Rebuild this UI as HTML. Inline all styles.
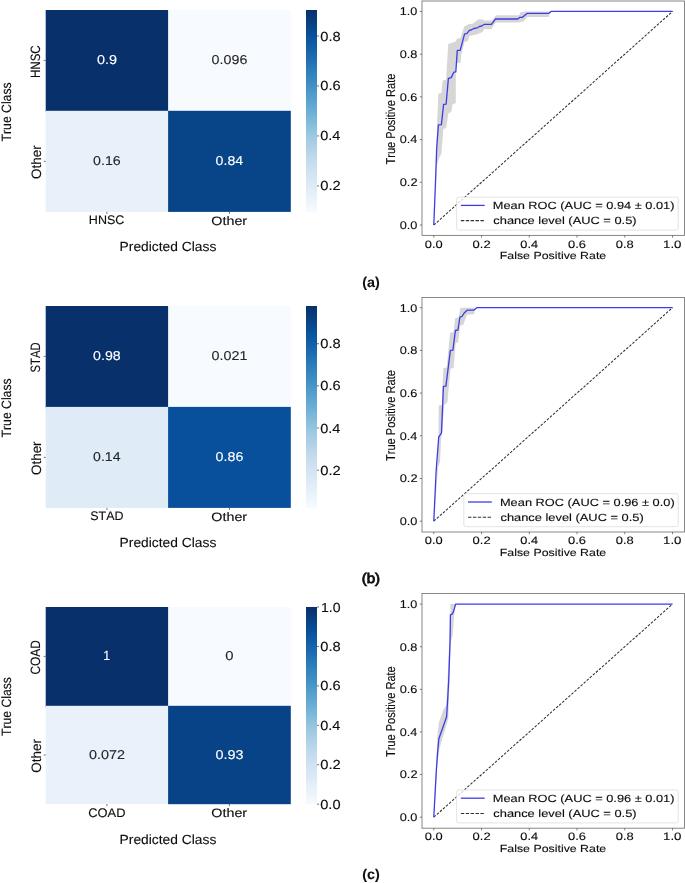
<!DOCTYPE html><html><head><meta charset="utf-8"><style>html,body{margin:0;padding:0;background:#fff;width:685px;height:883px;overflow:hidden}text{font-family:"Liberation Sans",sans-serif;font-kerning:none;text-rendering:geometricPrecision;stroke-width:0.12px}</style></head><body>
<svg width="685" height="883" viewBox="0 0 685 883" style="display:block;will-change:transform;font-family:'Liberation Sans',sans-serif;font-kerning:none"><defs><linearGradient id="ga" x1="0" y1="0" x2="0" y2="1"><stop offset="0.0000" stop-color="#08306b"/><stop offset="0.0312" stop-color="#083776"/><stop offset="0.0625" stop-color="#084082"/><stop offset="0.0938" stop-color="#08488e"/><stop offset="0.1250" stop-color="#08509b"/><stop offset="0.1562" stop-color="#0e58a2"/><stop offset="0.1875" stop-color="#1460a8"/><stop offset="0.2188" stop-color="#1a68ae"/><stop offset="0.2500" stop-color="#2070b4"/><stop offset="0.2812" stop-color="#2979b9"/><stop offset="0.3125" stop-color="#3181bd"/><stop offset="0.3438" stop-color="#3989c1"/><stop offset="0.3750" stop-color="#4191c6"/><stop offset="0.4062" stop-color="#4b98ca"/><stop offset="0.4375" stop-color="#56a0ce"/><stop offset="0.4688" stop-color="#60a7d2"/><stop offset="0.5000" stop-color="#6aaed6"/><stop offset="0.5312" stop-color="#77b5d9"/><stop offset="0.5625" stop-color="#84bcdb"/><stop offset="0.5938" stop-color="#91c3de"/><stop offset="0.6250" stop-color="#9dcae1"/><stop offset="0.6562" stop-color="#a8cee4"/><stop offset="0.6875" stop-color="#b2d2e8"/><stop offset="0.7188" stop-color="#bcd7eb"/><stop offset="0.7500" stop-color="#c6dbef"/><stop offset="0.7812" stop-color="#ccdff1"/><stop offset="0.8125" stop-color="#d2e3f3"/><stop offset="0.8438" stop-color="#d8e7f5"/><stop offset="0.8750" stop-color="#deebf7"/><stop offset="0.9062" stop-color="#e4eff9"/><stop offset="0.9375" stop-color="#eaf3fb"/><stop offset="0.9688" stop-color="#f1f7fd"/><stop offset="1.0000" stop-color="#f7fbff"/></linearGradient><linearGradient id="gb" x1="0" y1="0" x2="0" y2="1"><stop offset="0.0000" stop-color="#08306b"/><stop offset="0.0312" stop-color="#083776"/><stop offset="0.0625" stop-color="#084082"/><stop offset="0.0938" stop-color="#08488e"/><stop offset="0.1250" stop-color="#08509b"/><stop offset="0.1562" stop-color="#0e58a2"/><stop offset="0.1875" stop-color="#1460a8"/><stop offset="0.2188" stop-color="#1a68ae"/><stop offset="0.2500" stop-color="#2070b4"/><stop offset="0.2812" stop-color="#2979b9"/><stop offset="0.3125" stop-color="#3181bd"/><stop offset="0.3438" stop-color="#3989c1"/><stop offset="0.3750" stop-color="#4191c6"/><stop offset="0.4062" stop-color="#4b98ca"/><stop offset="0.4375" stop-color="#56a0ce"/><stop offset="0.4688" stop-color="#60a7d2"/><stop offset="0.5000" stop-color="#6aaed6"/><stop offset="0.5312" stop-color="#77b5d9"/><stop offset="0.5625" stop-color="#84bcdb"/><stop offset="0.5938" stop-color="#91c3de"/><stop offset="0.6250" stop-color="#9dcae1"/><stop offset="0.6562" stop-color="#a8cee4"/><stop offset="0.6875" stop-color="#b2d2e8"/><stop offset="0.7188" stop-color="#bcd7eb"/><stop offset="0.7500" stop-color="#c6dbef"/><stop offset="0.7812" stop-color="#ccdff1"/><stop offset="0.8125" stop-color="#d2e3f3"/><stop offset="0.8438" stop-color="#d8e7f5"/><stop offset="0.8750" stop-color="#deebf7"/><stop offset="0.9062" stop-color="#e4eff9"/><stop offset="0.9375" stop-color="#eaf3fb"/><stop offset="0.9688" stop-color="#f1f7fd"/><stop offset="1.0000" stop-color="#f7fbff"/></linearGradient><linearGradient id="gc" x1="0" y1="0" x2="0" y2="1"><stop offset="0.0000" stop-color="#08306b"/><stop offset="0.0312" stop-color="#083776"/><stop offset="0.0625" stop-color="#084082"/><stop offset="0.0938" stop-color="#08488e"/><stop offset="0.1250" stop-color="#08509b"/><stop offset="0.1562" stop-color="#0e58a2"/><stop offset="0.1875" stop-color="#1460a8"/><stop offset="0.2188" stop-color="#1a68ae"/><stop offset="0.2500" stop-color="#2070b4"/><stop offset="0.2812" stop-color="#2979b9"/><stop offset="0.3125" stop-color="#3181bd"/><stop offset="0.3438" stop-color="#3989c1"/><stop offset="0.3750" stop-color="#4191c6"/><stop offset="0.4062" stop-color="#4b98ca"/><stop offset="0.4375" stop-color="#56a0ce"/><stop offset="0.4688" stop-color="#60a7d2"/><stop offset="0.5000" stop-color="#6aaed6"/><stop offset="0.5312" stop-color="#77b5d9"/><stop offset="0.5625" stop-color="#84bcdb"/><stop offset="0.5938" stop-color="#91c3de"/><stop offset="0.6250" stop-color="#9dcae1"/><stop offset="0.6562" stop-color="#a8cee4"/><stop offset="0.6875" stop-color="#b2d2e8"/><stop offset="0.7188" stop-color="#bcd7eb"/><stop offset="0.7500" stop-color="#c6dbef"/><stop offset="0.7812" stop-color="#ccdff1"/><stop offset="0.8125" stop-color="#d2e3f3"/><stop offset="0.8438" stop-color="#d8e7f5"/><stop offset="0.8750" stop-color="#deebf7"/><stop offset="0.9062" stop-color="#e4eff9"/><stop offset="0.9375" stop-color="#eaf3fb"/><stop offset="0.9688" stop-color="#f1f7fd"/><stop offset="1.0000" stop-color="#f7fbff"/></linearGradient></defs><rect width="685" height="883" fill="#fff"/><rect x="45.70" y="10.00" width="123.90" height="102.30" fill="#08306b"/>
<rect x="168.10" y="10.00" width="122.70" height="102.30" fill="#f7fbff"/>
<rect x="45.70" y="110.80" width="123.90" height="101.10" fill="#e8f1fa"/>
<rect x="168.10" y="110.80" width="122.70" height="101.10" fill="#084488"/>
<text transform="translate(96.94,64.32) scale(1.1219,1)" font-size="12.853" fill="#ffffff" stroke="#ffffff">0.9</text>
<text transform="translate(211.59,64.32) scale(1.1127,1)" font-size="12.853" fill="#262626" stroke="#262626">0.096</text>
<text transform="translate(93.09,165.27) scale(1.1065,1)" font-size="12.853" fill="#262626" stroke="#262626">0.16</text>
<text transform="translate(215.60,165.27) scale(1.1020,1)" font-size="12.853" fill="#ffffff" stroke="#ffffff">0.84</text>
<rect x="306.0" y="10.00" width="11.0" height="201.90" fill="url(#ga)"/>
<line x1="317.00" y1="185.91" x2="319.00" y2="185.91" stroke="#444" stroke-width="0.75" />
<text transform="translate(320.22,190.43) scale(1.1237,1)" font-size="13.135" fill="#0d0d0d" stroke="#0d0d0d">0.2</text>
<line x1="317.00" y1="135.94" x2="319.00" y2="135.94" stroke="#444" stroke-width="0.75" />
<text transform="translate(320.23,140.46) scale(1.1059,1)" font-size="13.135" fill="#0d0d0d" stroke="#0d0d0d">0.4</text>
<line x1="317.00" y1="85.96" x2="319.00" y2="85.96" stroke="#444" stroke-width="0.75" />
<text transform="translate(320.23,90.48) scale(1.1182,1)" font-size="13.135" fill="#0d0d0d" stroke="#0d0d0d">0.6</text>
<line x1="317.00" y1="35.99" x2="319.00" y2="35.99" stroke="#444" stroke-width="0.75" />
<text transform="translate(320.23,40.51) scale(1.1178,1)" font-size="13.135" fill="#0d0d0d" stroke="#0d0d0d">0.8</text>
<line x1="43.70" y1="60.40" x2="45.70" y2="60.40" stroke="#444" stroke-width="0.75" />
<line x1="43.70" y1="161.35" x2="45.70" y2="161.35" stroke="#444" stroke-width="0.75" />
<line x1="106.90" y1="211.90" x2="106.90" y2="213.90" stroke="#444" stroke-width="0.75" />
<line x1="229.45" y1="211.90" x2="229.45" y2="213.90" stroke="#444" stroke-width="0.75" />
<text transform="translate(88.87,224.48) scale(1.0081,1)" font-size="12.429" fill="#0d0d0d" stroke="#0d0d0d">HNSC</text>
<text transform="translate(211.32,224.58) scale(1.1685,1)" font-size="12.255" fill="#0d0d0d" stroke="#0d0d0d">Other</text>
<text transform="translate(119.62,251.30) scale(1.0443,1)" font-size="13.227" fill="#0d0d0d" stroke="#0d0d0d">Predicted Class</text>
<text transform="translate(40.47,78.00) rotate(-90) scale(0.8507,1)" font-size="13.559" fill="#0d0d0d" stroke="#0d0d0d">HNSC</text>
<text transform="translate(40.67,178.99) rotate(-90) scale(0.9884,1)" font-size="13.617" fill="#0d0d0d" stroke="#0d0d0d">Other</text>
<text transform="translate(10.50,141.42) rotate(-90) scale(0.9046,1)" font-size="13.518" fill="#0d0d0d" stroke="#0d0d0d">True Class</text>
<rect x="45.70" y="306.00" width="123.90" height="102.40" fill="#08306b"/>
<rect x="168.10" y="306.00" width="122.70" height="102.40" fill="#f7fbff"/>
<rect x="45.70" y="406.90" width="123.90" height="101.00" fill="#dfebf7"/>
<rect x="168.10" y="406.90" width="122.70" height="101.00" fill="#08509b"/>
<text transform="translate(93.09,360.37) scale(1.1062,1)" font-size="12.853" fill="#ffffff" stroke="#ffffff">0.98</text>
<text transform="translate(211.59,360.37) scale(1.1149,1)" font-size="12.853" fill="#262626" stroke="#262626">0.021</text>
<text transform="translate(93.10,461.32) scale(1.0979,1)" font-size="12.853" fill="#262626" stroke="#262626">0.14</text>
<text transform="translate(215.59,461.32) scale(1.1107,1)" font-size="12.853" fill="#ffffff" stroke="#ffffff">0.86</text>
<rect x="306.0" y="306.00" width="11.0" height="201.90" fill="url(#gb)"/>
<line x1="317.00" y1="470.18" x2="319.00" y2="470.18" stroke="#444" stroke-width="0.75" />
<text transform="translate(320.22,474.70) scale(1.1237,1)" font-size="13.135" fill="#0d0d0d" stroke="#0d0d0d">0.2</text>
<line x1="317.00" y1="428.03" x2="319.00" y2="428.03" stroke="#444" stroke-width="0.75" />
<text transform="translate(320.23,432.55) scale(1.1059,1)" font-size="13.135" fill="#0d0d0d" stroke="#0d0d0d">0.4</text>
<line x1="317.00" y1="385.87" x2="319.00" y2="385.87" stroke="#444" stroke-width="0.75" />
<text transform="translate(320.23,390.40) scale(1.1182,1)" font-size="13.135" fill="#0d0d0d" stroke="#0d0d0d">0.6</text>
<line x1="317.00" y1="343.72" x2="319.00" y2="343.72" stroke="#444" stroke-width="0.75" />
<text transform="translate(320.23,348.25) scale(1.1178,1)" font-size="13.135" fill="#0d0d0d" stroke="#0d0d0d">0.8</text>
<line x1="43.70" y1="356.45" x2="45.70" y2="356.45" stroke="#444" stroke-width="0.75" />
<line x1="43.70" y1="457.40" x2="45.70" y2="457.40" stroke="#444" stroke-width="0.75" />
<line x1="106.90" y1="507.90" x2="106.90" y2="509.90" stroke="#444" stroke-width="0.75" />
<line x1="229.45" y1="507.90" x2="229.45" y2="509.90" stroke="#444" stroke-width="0.75" />
<text transform="translate(90.28,520.48) scale(1.0035,1)" font-size="12.429" fill="#0d0d0d" stroke="#0d0d0d">STAD</text>
<text transform="translate(211.32,520.58) scale(1.1685,1)" font-size="12.255" fill="#0d0d0d" stroke="#0d0d0d">Other</text>
<text transform="translate(119.62,547.30) scale(1.0443,1)" font-size="13.227" fill="#0d0d0d" stroke="#0d0d0d">Predicted Class</text>
<text transform="translate(40.47,372.41) rotate(-90) scale(0.8281,1)" font-size="13.559" fill="#0d0d0d" stroke="#0d0d0d">STAD</text>
<text transform="translate(40.67,475.04) rotate(-90) scale(0.9884,1)" font-size="13.617" fill="#0d0d0d" stroke="#0d0d0d">Other</text>
<text transform="translate(10.50,437.42) rotate(-90) scale(0.9046,1)" font-size="13.518" fill="#0d0d0d" stroke="#0d0d0d">True Class</text>
<rect x="45.70" y="607.00" width="123.90" height="100.30" fill="#08306b"/>
<rect x="168.10" y="607.00" width="122.70" height="100.30" fill="#f7fbff"/>
<rect x="45.70" y="705.80" width="123.90" height="98.40" fill="#e9f2fa"/>
<rect x="168.10" y="705.80" width="122.70" height="98.40" fill="#084387"/>
<text transform="translate(103.31,660.45) scale(0.9294,1)" font-size="13.227" fill="#ffffff" stroke="#ffffff">1</text>
<text transform="translate(225.32,660.32) scale(1.1556,1)" font-size="12.853" fill="#262626" stroke="#262626">0</text>
<text transform="translate(88.99,758.92) scale(1.1188,1)" font-size="12.853" fill="#262626" stroke="#262626">0.072</text>
<text transform="translate(215.49,758.92) scale(1.1191,1)" font-size="12.853" fill="#ffffff" stroke="#ffffff">0.93</text>
<rect x="306.0" y="607.00" width="11.0" height="197.20" fill="url(#gc)"/>
<line x1="317.00" y1="804.20" x2="319.00" y2="804.20" stroke="#444" stroke-width="0.75" />
<text transform="translate(320.23,808.72) scale(1.1141,1)" font-size="13.135" fill="#0d0d0d" stroke="#0d0d0d">0.0</text>
<line x1="317.00" y1="764.76" x2="319.00" y2="764.76" stroke="#444" stroke-width="0.75" />
<text transform="translate(320.22,769.28) scale(1.1237,1)" font-size="13.135" fill="#0d0d0d" stroke="#0d0d0d">0.2</text>
<line x1="317.00" y1="725.32" x2="319.00" y2="725.32" stroke="#444" stroke-width="0.75" />
<text transform="translate(320.23,729.84) scale(1.1059,1)" font-size="13.135" fill="#0d0d0d" stroke="#0d0d0d">0.4</text>
<line x1="317.00" y1="685.88" x2="319.00" y2="685.88" stroke="#444" stroke-width="0.75" />
<text transform="translate(320.23,690.40) scale(1.1182,1)" font-size="13.135" fill="#0d0d0d" stroke="#0d0d0d">0.6</text>
<line x1="317.00" y1="646.44" x2="319.00" y2="646.44" stroke="#444" stroke-width="0.75" />
<text transform="translate(320.23,650.96) scale(1.1178,1)" font-size="13.135" fill="#0d0d0d" stroke="#0d0d0d">0.8</text>
<line x1="317.00" y1="607.00" x2="319.00" y2="607.00" stroke="#444" stroke-width="0.75" />
<text transform="translate(321.03,611.52) scale(1.0689,1)" font-size="13.135" fill="#0d0d0d" stroke="#0d0d0d">1.0</text>
<line x1="43.70" y1="656.40" x2="45.70" y2="656.40" stroke="#444" stroke-width="0.75" />
<line x1="43.70" y1="755.00" x2="45.70" y2="755.00" stroke="#444" stroke-width="0.75" />
<line x1="106.90" y1="804.20" x2="106.90" y2="806.20" stroke="#444" stroke-width="0.75" />
<line x1="229.45" y1="804.20" x2="229.45" y2="806.20" stroke="#444" stroke-width="0.75" />
<text transform="translate(88.24,816.78) scale(1.0379,1)" font-size="12.429" fill="#0d0d0d" stroke="#0d0d0d">COAD</text>
<text transform="translate(211.32,816.88) scale(1.1685,1)" font-size="12.255" fill="#0d0d0d" stroke="#0d0d0d">Other</text>
<text transform="translate(119.62,843.60) scale(1.0443,1)" font-size="13.227" fill="#0d0d0d" stroke="#0d0d0d">Predicted Class</text>
<text transform="translate(40.47,674.55) rotate(-90) scale(0.8748,1)" font-size="13.559" fill="#0d0d0d" stroke="#0d0d0d">COAD</text>
<text transform="translate(40.67,772.64) rotate(-90) scale(0.9884,1)" font-size="13.617" fill="#0d0d0d" stroke="#0d0d0d">Other</text>
<text transform="translate(10.50,736.07) rotate(-90) scale(0.9046,1)" font-size="13.518" fill="#0d0d0d" stroke="#0d0d0d">True Class</text>
<polygon points="433.80,225.00 435.30,185.00 436.20,160.00 437.10,123.50 438.40,93.80 441.40,92.90 442.70,80.40 446.10,79.80 447.00,65.00 448.20,44.00 451.90,42.70 455.40,41.80 457.10,38.70 460.60,37.80 464.20,26.50 468.50,24.30 472.90,23.40 478.60,19.20 482.50,19.40 484.30,20.40 492.00,20.40 496.10,15.20 518.90,15.20 520.60,12.30 525.90,11.45 550.40,11.45 548.60,16.90 527.00,16.90 523.50,21.60 517.70,22.40 495.50,22.40 491.40,29.20 484.30,29.10 482.50,32.10 477.30,34.30 469.40,36.10 467.70,41.30 464.60,41.80 461.10,54.90 460.50,62.80 455.80,63.40 455.80,103.10 452.40,104.80 451.20,112.10 448.40,113.30 446.10,128.00 443.30,129.10 441.40,154.00 439.30,157.50 436.80,166.00 435.50,185.00" fill="#d6d6d6"/>
<line x1="433.80" y1="225.00" x2="672.50" y2="11.45" stroke="#303030" stroke-width="1.05" stroke-dasharray="2.6 1.5"/>
<polyline points="433.80,225.00 435.70,177.00 436.60,150.00 438.40,124.80 441.40,124.60 443.60,104.40 446.10,104.20 448.40,78.40 451.20,77.60 453.80,72.20 455.80,71.90 457.30,50.40 460.20,50.40 464.60,33.90 466.80,33.70 469.40,30.40 471.20,30.00 473.80,28.50 476.40,28.20 479.50,26.50 481.70,26.00 484.30,24.30 491.40,24.30 495.50,19.00 517.70,19.00 520.00,17.30 522.40,17.30 527.00,13.40 548.60,13.40 551.00,11.45 672.50,11.45" fill="none" stroke="#3c3ce8" stroke-width="1.3" stroke-linejoin="round"/>
<rect x="422.00" y="1.00" width="262.50" height="234.40" fill="none" stroke="#7a7a7a" stroke-width="0.9"/>
<line x1="433.80" y1="235.40" x2="433.80" y2="237.60" stroke="#555" stroke-width="0.75" />
<line x1="419.80" y1="225.00" x2="422.00" y2="225.00" stroke="#555" stroke-width="0.75" />
<text transform="translate(424.85,247.60) scale(1.2000,1)" font-size="10.734" fill="#0d0d0d" stroke="#0d0d0d">0.0</text>
<text transform="translate(399.70,228.84) scale(1.1407,1)" font-size="11.158" fill="#0d0d0d" stroke="#0d0d0d">0.0</text>
<line x1="481.54" y1="235.40" x2="481.54" y2="237.60" stroke="#555" stroke-width="0.75" />
<line x1="419.80" y1="182.29" x2="422.00" y2="182.29" stroke="#555" stroke-width="0.75" />
<text transform="translate(472.58,247.60) scale(1.2103,1)" font-size="10.734" fill="#0d0d0d" stroke="#0d0d0d">0.2</text>
<text transform="translate(399.70,186.13) scale(1.1506,1)" font-size="11.158" fill="#0d0d0d" stroke="#0d0d0d">0.2</text>
<line x1="529.28" y1="235.40" x2="529.28" y2="237.60" stroke="#555" stroke-width="0.75" />
<line x1="419.80" y1="139.58" x2="422.00" y2="139.58" stroke="#555" stroke-width="0.75" />
<text transform="translate(520.33,247.60) scale(1.1911,1)" font-size="10.734" fill="#0d0d0d" stroke="#0d0d0d">0.4</text>
<text transform="translate(399.71,143.42) scale(1.1323,1)" font-size="11.158" fill="#0d0d0d" stroke="#0d0d0d">0.4</text>
<line x1="577.02" y1="235.40" x2="577.02" y2="237.60" stroke="#555" stroke-width="0.75" />
<line x1="419.80" y1="96.87" x2="422.00" y2="96.87" stroke="#555" stroke-width="0.75" />
<text transform="translate(568.06,247.60) scale(1.2045,1)" font-size="10.734" fill="#0d0d0d" stroke="#0d0d0d">0.6</text>
<text transform="translate(399.70,100.71) scale(1.1450,1)" font-size="11.158" fill="#0d0d0d" stroke="#0d0d0d">0.6</text>
<line x1="624.76" y1="235.40" x2="624.76" y2="237.60" stroke="#555" stroke-width="0.75" />
<line x1="419.80" y1="54.16" x2="422.00" y2="54.16" stroke="#555" stroke-width="0.75" />
<text transform="translate(615.81,247.60) scale(1.2040,1)" font-size="10.734" fill="#0d0d0d" stroke="#0d0d0d">0.8</text>
<text transform="translate(399.70,58.00) scale(1.1446,1)" font-size="11.158" fill="#0d0d0d" stroke="#0d0d0d">0.8</text>
<line x1="672.50" y1="235.40" x2="672.50" y2="237.60" stroke="#555" stroke-width="0.75" />
<line x1="419.80" y1="11.45" x2="422.00" y2="11.45" stroke="#555" stroke-width="0.75" />
<text transform="translate(663.04,247.60) scale(1.2349,1)" font-size="10.734" fill="#0d0d0d" stroke="#0d0d0d">1.0</text>
<text transform="translate(399.84,15.29) scale(1.1318,1)" font-size="11.158" fill="#0d0d0d" stroke="#0d0d0d">1.0</text>
<text transform="translate(395.40,164.45) rotate(-90) scale(0.8546,1)" font-size="12.936" fill="#0d0d0d" stroke="#0d0d0d">True Positive Rate</text>
<text transform="translate(499.74,259.40) scale(1.1986,1)" font-size="10.320" fill="#0d0d0d" stroke="#0d0d0d">False Positive Rate</text>
<rect x="456.65" y="197.10" width="221.55" height="33.00" rx="2" fill="#ffffff" fill-opacity="0.8" stroke="#dcdcdc" stroke-width="0.8"/>
<line x1="460.85" y1="205.40" x2="484.65" y2="205.40" stroke="#3c3ce8" stroke-width="1.3" />
<line x1="460.85" y1="220.60" x2="483.85" y2="220.60" stroke="#303030" stroke-width="1.05" stroke-dasharray="3.4 1.5"/>
<text transform="translate(492.80,209.30) scale(1.2242,1)" font-size="10.465" fill="#0d0d0d" stroke="#0d0d0d">Mean ROC (AUC = 0.94 ± 0.01)</text>
<text transform="translate(493.30,224.10) scale(1.2300,1)" font-size="10.465" fill="#0d0d0d" stroke="#0d0d0d">chance level (AUC = 0.5)</text>
<polygon points="433.80,521.30 436.50,480.00 438.50,437.20 438.70,405.50 442.50,404.80 442.50,386.20 443.40,368.10 446.70,367.40 450.10,332.80 453.50,332.30 455.20,318.10 458.60,317.60 460.30,308.50 460.80,307.70 474.40,307.70 474.40,314.20 467.10,314.50 463.10,324.90 460.30,325.50 458.00,342.50 455.70,343.00 453.50,368.00 450.50,368.70 447.40,402.30 444.30,404.80 442.20,432.20 441.20,437.20 440.00,462.10 438.10,467.00 435.50,500.00" fill="#d6d6d6"/>
<line x1="433.80" y1="521.20" x2="672.50" y2="307.70" stroke="#303030" stroke-width="1.05" stroke-dasharray="2.6 1.5"/>
<polyline points="433.80,521.30 436.20,470.00 438.70,437.20 441.50,432.90 443.40,386.40 445.90,386.20 450.40,350.40 452.90,350.20 455.40,330.40 458.00,330.00 459.90,317.00 462.00,316.40 464.20,313.00 467.10,310.20 473.90,310.20 476.70,307.70 672.50,307.70" fill="none" stroke="#3c3ce8" stroke-width="1.3" stroke-linejoin="round"/>
<rect x="422.00" y="297.50" width="262.50" height="234.50" fill="none" stroke="#7a7a7a" stroke-width="0.9"/>
<line x1="433.80" y1="532.00" x2="433.80" y2="534.20" stroke="#555" stroke-width="0.75" />
<line x1="419.80" y1="521.20" x2="422.00" y2="521.20" stroke="#555" stroke-width="0.75" />
<text transform="translate(424.85,544.20) scale(1.2000,1)" font-size="10.734" fill="#0d0d0d" stroke="#0d0d0d">0.0</text>
<text transform="translate(399.70,525.04) scale(1.1407,1)" font-size="11.158" fill="#0d0d0d" stroke="#0d0d0d">0.0</text>
<line x1="481.54" y1="532.00" x2="481.54" y2="534.20" stroke="#555" stroke-width="0.75" />
<line x1="419.80" y1="478.50" x2="422.00" y2="478.50" stroke="#555" stroke-width="0.75" />
<text transform="translate(472.58,544.20) scale(1.2103,1)" font-size="10.734" fill="#0d0d0d" stroke="#0d0d0d">0.2</text>
<text transform="translate(399.70,482.34) scale(1.1506,1)" font-size="11.158" fill="#0d0d0d" stroke="#0d0d0d">0.2</text>
<line x1="529.28" y1="532.00" x2="529.28" y2="534.20" stroke="#555" stroke-width="0.75" />
<line x1="419.80" y1="435.80" x2="422.00" y2="435.80" stroke="#555" stroke-width="0.75" />
<text transform="translate(520.33,544.20) scale(1.1911,1)" font-size="10.734" fill="#0d0d0d" stroke="#0d0d0d">0.4</text>
<text transform="translate(399.71,439.64) scale(1.1323,1)" font-size="11.158" fill="#0d0d0d" stroke="#0d0d0d">0.4</text>
<line x1="577.02" y1="532.00" x2="577.02" y2="534.20" stroke="#555" stroke-width="0.75" />
<line x1="419.80" y1="393.10" x2="422.00" y2="393.10" stroke="#555" stroke-width="0.75" />
<text transform="translate(568.06,544.20) scale(1.2045,1)" font-size="10.734" fill="#0d0d0d" stroke="#0d0d0d">0.6</text>
<text transform="translate(399.70,396.94) scale(1.1450,1)" font-size="11.158" fill="#0d0d0d" stroke="#0d0d0d">0.6</text>
<line x1="624.76" y1="532.00" x2="624.76" y2="534.20" stroke="#555" stroke-width="0.75" />
<line x1="419.80" y1="350.40" x2="422.00" y2="350.40" stroke="#555" stroke-width="0.75" />
<text transform="translate(615.81,544.20) scale(1.2040,1)" font-size="10.734" fill="#0d0d0d" stroke="#0d0d0d">0.8</text>
<text transform="translate(399.70,354.24) scale(1.1446,1)" font-size="11.158" fill="#0d0d0d" stroke="#0d0d0d">0.8</text>
<line x1="672.50" y1="532.00" x2="672.50" y2="534.20" stroke="#555" stroke-width="0.75" />
<line x1="419.80" y1="307.70" x2="422.00" y2="307.70" stroke="#555" stroke-width="0.75" />
<text transform="translate(663.04,544.20) scale(1.2349,1)" font-size="10.734" fill="#0d0d0d" stroke="#0d0d0d">1.0</text>
<text transform="translate(399.84,311.54) scale(1.1318,1)" font-size="11.158" fill="#0d0d0d" stroke="#0d0d0d">1.0</text>
<text transform="translate(395.40,461.00) rotate(-90) scale(0.8546,1)" font-size="12.936" fill="#0d0d0d" stroke="#0d0d0d">True Positive Rate</text>
<text transform="translate(499.74,556.00) scale(1.1986,1)" font-size="10.320" fill="#0d0d0d" stroke="#0d0d0d">False Positive Rate</text>
<rect x="463.80" y="493.70" width="214.40" height="33.00" rx="2" fill="#ffffff" fill-opacity="0.8" stroke="#dcdcdc" stroke-width="0.8"/>
<line x1="468.00" y1="502.00" x2="491.80" y2="502.00" stroke="#3c3ce8" stroke-width="1.3" />
<line x1="468.00" y1="517.20" x2="491.00" y2="517.20" stroke="#303030" stroke-width="1.05" stroke-dasharray="3.4 1.5"/>
<text transform="translate(499.95,505.90) scale(1.2258,1)" font-size="10.465" fill="#0d0d0d" stroke="#0d0d0d">Mean ROC (AUC = 0.96 ± 0.0)</text>
<text transform="translate(500.45,520.70) scale(1.2300,1)" font-size="10.465" fill="#0d0d0d" stroke="#0d0d0d">chance level (AUC = 0.5)</text>
<polygon points="433.80,817.20 436.00,770.00 437.50,735.00 438.80,722.80 443.30,709.80 446.30,705.10 447.00,690.00 448.00,670.00 449.60,636.00 450.40,614.80 450.40,604.10 455.60,604.10 454.20,614.80 452.80,634.70 450.60,642.00 449.50,680.00 448.30,718.70 439.50,748.50 437.60,762.00 436.00,785.00" fill="#d6d6d6"/>
<line x1="433.80" y1="817.20" x2="672.50" y2="604.10" stroke="#303030" stroke-width="1.05" stroke-dasharray="2.6 1.5"/>
<polyline points="433.80,817.20 436.40,769.40 437.50,754.10 438.80,739.00 446.60,716.70 447.60,701.00 448.70,680.70 450.10,640.00 450.40,614.80 452.10,614.10 453.50,611.70 455.60,604.10 672.50,604.10" fill="none" stroke="#3c3ce8" stroke-width="1.3" stroke-linejoin="round"/>
<rect x="422.00" y="593.50" width="262.50" height="234.70" fill="none" stroke="#7a7a7a" stroke-width="0.9"/>
<line x1="433.80" y1="828.20" x2="433.80" y2="830.40" stroke="#555" stroke-width="0.75" />
<line x1="419.80" y1="817.20" x2="422.00" y2="817.20" stroke="#555" stroke-width="0.75" />
<text transform="translate(424.85,840.40) scale(1.2000,1)" font-size="10.734" fill="#0d0d0d" stroke="#0d0d0d">0.0</text>
<text transform="translate(399.70,821.04) scale(1.1407,1)" font-size="11.158" fill="#0d0d0d" stroke="#0d0d0d">0.0</text>
<line x1="481.54" y1="828.20" x2="481.54" y2="830.40" stroke="#555" stroke-width="0.75" />
<line x1="419.80" y1="774.58" x2="422.00" y2="774.58" stroke="#555" stroke-width="0.75" />
<text transform="translate(472.58,840.40) scale(1.2103,1)" font-size="10.734" fill="#0d0d0d" stroke="#0d0d0d">0.2</text>
<text transform="translate(399.70,778.42) scale(1.1506,1)" font-size="11.158" fill="#0d0d0d" stroke="#0d0d0d">0.2</text>
<line x1="529.28" y1="828.20" x2="529.28" y2="830.40" stroke="#555" stroke-width="0.75" />
<line x1="419.80" y1="731.96" x2="422.00" y2="731.96" stroke="#555" stroke-width="0.75" />
<text transform="translate(520.33,840.40) scale(1.1911,1)" font-size="10.734" fill="#0d0d0d" stroke="#0d0d0d">0.4</text>
<text transform="translate(399.71,735.80) scale(1.1323,1)" font-size="11.158" fill="#0d0d0d" stroke="#0d0d0d">0.4</text>
<line x1="577.02" y1="828.20" x2="577.02" y2="830.40" stroke="#555" stroke-width="0.75" />
<line x1="419.80" y1="689.34" x2="422.00" y2="689.34" stroke="#555" stroke-width="0.75" />
<text transform="translate(568.06,840.40) scale(1.2045,1)" font-size="10.734" fill="#0d0d0d" stroke="#0d0d0d">0.6</text>
<text transform="translate(399.70,693.18) scale(1.1450,1)" font-size="11.158" fill="#0d0d0d" stroke="#0d0d0d">0.6</text>
<line x1="624.76" y1="828.20" x2="624.76" y2="830.40" stroke="#555" stroke-width="0.75" />
<line x1="419.80" y1="646.72" x2="422.00" y2="646.72" stroke="#555" stroke-width="0.75" />
<text transform="translate(615.81,840.40) scale(1.2040,1)" font-size="10.734" fill="#0d0d0d" stroke="#0d0d0d">0.8</text>
<text transform="translate(399.70,650.56) scale(1.1446,1)" font-size="11.158" fill="#0d0d0d" stroke="#0d0d0d">0.8</text>
<line x1="672.50" y1="828.20" x2="672.50" y2="830.40" stroke="#555" stroke-width="0.75" />
<line x1="419.80" y1="604.10" x2="422.00" y2="604.10" stroke="#555" stroke-width="0.75" />
<text transform="translate(663.04,840.40) scale(1.2349,1)" font-size="10.734" fill="#0d0d0d" stroke="#0d0d0d">1.0</text>
<text transform="translate(399.84,607.94) scale(1.1318,1)" font-size="11.158" fill="#0d0d0d" stroke="#0d0d0d">1.0</text>
<text transform="translate(395.40,757.10) rotate(-90) scale(0.8546,1)" font-size="12.936" fill="#0d0d0d" stroke="#0d0d0d">True Positive Rate</text>
<text transform="translate(499.74,852.20) scale(1.1986,1)" font-size="10.320" fill="#0d0d0d" stroke="#0d0d0d">False Positive Rate</text>
<rect x="456.65" y="789.90" width="221.55" height="33.00" rx="2" fill="#ffffff" fill-opacity="0.8" stroke="#dcdcdc" stroke-width="0.8"/>
<line x1="460.85" y1="798.20" x2="484.65" y2="798.20" stroke="#3c3ce8" stroke-width="1.3" />
<line x1="460.85" y1="813.40" x2="483.85" y2="813.40" stroke="#303030" stroke-width="1.05" stroke-dasharray="3.4 1.5"/>
<text transform="translate(492.80,802.10) scale(1.2242,1)" font-size="10.465" fill="#0d0d0d" stroke="#0d0d0d">Mean ROC (AUC = 0.96 ± 0.01)</text>
<text transform="translate(493.30,816.90) scale(1.2300,1)" font-size="10.465" fill="#0d0d0d" stroke="#0d0d0d">chance level (AUC = 0.5)</text>
<text transform="translate(362.19,286.58) scale(1.0205,1)" font-size="14.054" fill="#111" stroke="#111" font-weight="bold" style="stroke-width:0.1px">(a)</text>
<text transform="translate(361.66,583.19) scale(1.0750,1)" font-size="14.061" fill="#111" stroke="#111" style="stroke-width:0.85px">(b)</text>
<text transform="translate(362.19,879.01) scale(1.0284,1)" font-size="13.947" fill="#111" stroke="#111" font-weight="bold" style="stroke-width:0.1px">(c)</text></svg>
</body></html>
